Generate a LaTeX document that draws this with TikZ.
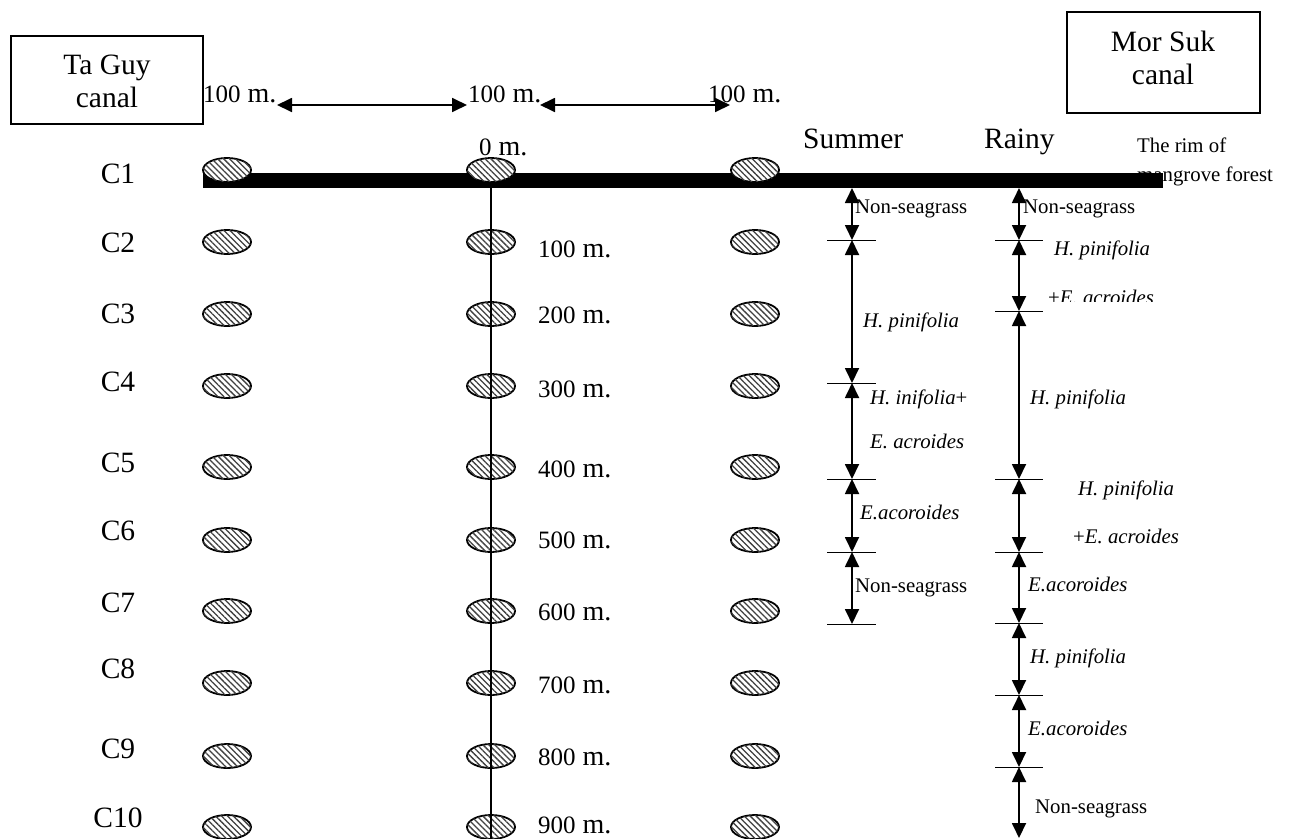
\documentclass[tikz,border=0pt]{standalone}
\usepackage{fontspec}
\setmainfont{Liberation Serif}
\usetikzlibrary{arrows.meta,shapes.geometric,patterns.meta}
\newcommand{\distlab}[1]{{\fontsize{25}{28}\selectfont #1}{\fontsize{28}{30}\selectfont\ m.}}
\newcommand{\bigf}{\fontsize{29.5}{33}\selectfont}
\newcommand{\smf}{\fontsize{20.8}{24}\selectfont}
\begin{document}
\begin{tikzpicture}[x=1pt,y=-1pt,
  canalbox/.style={draw,line width=1.6pt,inner sep=0pt},
  ellip/.style={ellipse,draw,line width=1.8pt,minimum width=48pt,minimum height=24pt,inner sep=0pt,
    fill=white,postaction={pattern={Lines[angle=-45,distance=4.2pt,line width=1.3pt]},pattern color=black!75}},
  clab/.style={anchor=base,inner sep=0pt,font=\bigf},
  dlab/.style={anchor=base west,inner sep=0pt},
  zlab/.style={anchor=base west,inner sep=0pt,font=\smf},
  ilab/.style={anchor=base west,inner sep=0pt,font=\smf\itshape},
  dbl/.style={line width=1.8pt,{Triangle[length=15pt,width=14pt]}-{Triangle[length=15pt,width=14pt]}},
  harrow/.style={line width=1.8pt,{Triangle[length=15pt,width=14pt]}-{Triangle[length=15pt,width=14pt]}},
  tickl/.style={line width=1pt}]
\useasboundingbox (0,0) rectangle (1289,838);

% canal boxes
\draw[canalbox] (11,36) rectangle (203,124);
\node[anchor=base,inner sep=0pt,font=\bigf] (tg1) at (107,74) {Ta Guy};
\node[anchor=base,inner sep=0pt,font=\bigf] (tg2) at (107,107) {canal};
\draw[canalbox] (1067,12) rectangle (1260,113);
\node[anchor=base,inner sep=0pt,font=\bigf] (ms1) at (1163,51) {Mor Suk};
\node[anchor=base,inner sep=0pt,font=\bigf] (ms2) at (1163,84) {canal};

% top distance labels and arrows
\node[dlab] (t1) at (203,102) {\distlab{100}};
\node[dlab] (t2) at (468,102) {\distlab{100}};
\node[dlab] (t3) at (708,102) {\distlab{100}};
\node[dlab] (z0) at (479,155) {\distlab{0}};
\coordinate (a1) at (277,105); \coordinate (a2) at (467,105);
\coordinate (a3) at (540,105); \coordinate (a4) at (730,105);
\draw[harrow] (a1) -- (a2);
\draw[harrow] (a3) -- (a4);

% season headers
\node[anchor=base west,inner sep=0pt,font=\bigf] (summer) at (803,148) {Summer};
\node[anchor=base west,inner sep=0pt,font=\bigf] (rainy) at (984,148) {Rainy};
\node[zlab] (rim1) at (1137,152) {The rim of};
\node[zlab] (rim2) at (1137,181) {mangrove forest};

% thick rim line
\coordinate (rimL) at (203,180); \coordinate (rimR) at (1163,180);
\draw[line width=15pt] (rimL) -- (rimR);

% C labels
\foreach \i/\b in {1/183,2/252,3/323,4/391,5/472,6/540,7/612,8/678,9/758,10/827}
  \node[clab] (c\i) at (118,\b) {C\i};

% ellipses
\foreach \r/\y in {1/170,2/242,3/314,4/386,5/467,6/540,7/611,8/683,9/756,10/827}
  \foreach \c/\x in {1/227,2/491,3/755}
    \node[ellip] (e-\r-\c) at (\x,\y) {};

% central transect line
\coordinate (vtop) at (491,188); \coordinate (vbot) at (491,838);
\draw[line width=1.8pt] (vtop) -- (vbot);

% distance labels along transect
\foreach \d/\b in {100/257,200/323,300/397,400/477,500/548,600/620,700/693,800/765,900/833}
  \node[dlab] (d\d) at (538,\b) {\distlab{\d}};

% Summer column
\foreach \n/\y in {0/188,1/240,2/383,3/479,4/552,5/624}
  \coordinate (s\n) at (852,\y);
\foreach \n in {1,...,5}
  \draw[tickl] ([xshift=-25pt]s\n) -- ([xshift=24pt]s\n);
\foreach \a/\b in {s0/s1,s1/s2,s2/s3,s3/s4,s4/s5}
  \draw[dbl] (\a) -- (\b);
\node[zlab] (sl1) at (855,213) {Non-seagrass};
\node[ilab] (sl2) at (863,327) {H. pinifolia};
\node[ilab] (sl3) at (870,404) {H. inifolia\upshape+};
\node[ilab] (sl4) at (870,448) {E. acroides};
\node[ilab] (sl5) at (860,519) {E.acoroides};
\node[zlab] (sl6) at (855,592) {Non-seagrass};

% Rainy column
\foreach \n/\y in {0/188,1/240,2/311,3/479,4/552,5/623,6/695,7/767,8/838}
  \coordinate (r\n) at (1019,\y);
\foreach \n in {1,...,7}
  \draw[tickl] ([xshift=-24pt]r\n) -- ([xshift=24pt]r\n);
\foreach \a/\b in {r0/r1,r1/r2,r2/r3,r3/r4,r4/r5,r5/r6,r6/r7,r7/r8}
  \draw[dbl] (\a) -- (\b);
\node[zlab] (rl1) at (1023,213) {Non-seagrass};
\node[ilab] (rl2) at (1054,255) {H. pinifolia};
\begin{scope}
  \clip (1040,270) rectangle (1220,301);
  \node[ilab] (rl3) at (1048,304) {\upshape+\itshape E. acroides};
\end{scope}
\node[ilab] (rl4) at (1030,404) {H. pinifolia};
\node[ilab] (rl5) at (1078,495) {H. pinifolia};
\node[ilab] (rl6) at (1073,543) {\upshape+\itshape E. acroides};
\node[ilab] (rl7) at (1028,591) {E.acoroides};
\node[ilab] (rl8) at (1030,663) {H. pinifolia};
\node[ilab] (rl9) at (1028,735) {E.acoroides};
\node[zlab] (rl10) at (1035,813) {Non-seagrass};
\end{tikzpicture}
\end{document}
